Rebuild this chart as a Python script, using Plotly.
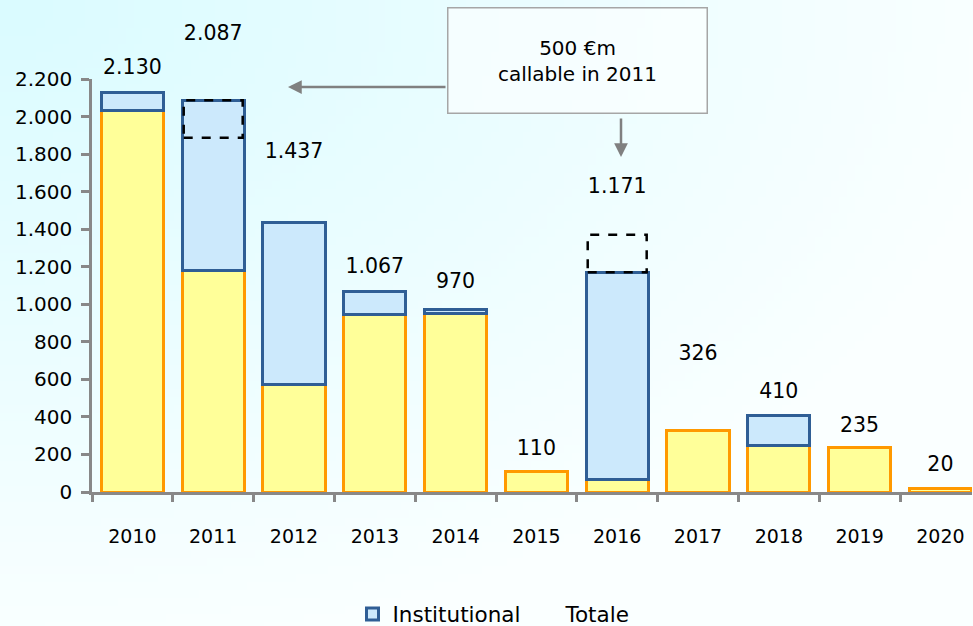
import base64
import struct
import zlib

import plotly.graph_objects as go

# ---- data (€m) ----
years = ["2010", "2011", "2012", "2013", "2014", "2015", "2016", "2017", "2018", "2019", "2020"]
retail = [2030, 1180, 575, 945, 950, 110, 65, 326, 250, 235, 20]
institutional = [100, 907, 862, 122, 20, 0, 1106, 0, 160, 0, 0]
totals = [2130, 2087, 1437, 1067, 970, 110, 1171, 326, 410, 235, 20]
callable_amount = 200
callable_from, callable_to = "2011", "2016"
y_ticks = [0, 200, 400, 600, 800, 1000, 1200, 1400, 1600, 1800, 2000, 2200]
y_max = 2200

# ---- label placement (height above each bar, data units) ----
label_lift = [124, 348, 369, 126, 143, 114, 449, 404, 117, 111, 119]

# ---- geometry (pixels) ----
W, H = 973, 626
L, R, B = 92, 972, 492      # plot area left/right/bottom
T_AXIS = 79                 # top of the value axis (2.200)
T = 4                       # top of the drawing area (labels may rise above the axis)
BAR_W = 0.77
FONT = "DejaVu Sans"

axis_frac = (B - T_AXIS) / (B - T)


def px_x(p):
    return (p - L) / (R - L)


def px_y(p):
    return (B - p) / (B - T)


def gradient_png(w, h):
    """Soft cyan wash fading from the top-left corner to white."""
    c0 = (218, 251, 255)
    c1 = (250, 255, 255)
    rows = []
    for j in range(h):
        row = bytearray([0])
        for i in range(w):
            d = ((i / (w - 1)) ** 2 + (j / (h - 1)) ** 2) ** 0.5
            t = min(1.0, d / 1.05)
            row += bytes(int(round(c0[k] + (c1[k] - c0[k]) * t)) for k in range(3))
        rows.append(bytes(row))
    raw = b"".join(rows)

    def chunk(tag, data):
        c = struct.pack(">I", len(data)) + tag + data
        return c + struct.pack(">I", zlib.crc32(tag + data) & 0xFFFFFFFF)

    png = b"\x89PNG\r\n\x1a\n"
    png += chunk(b"IHDR", struct.pack(">IIBBBBB", w, h, 8, 2, 0, 0, 0))
    png += chunk(b"IDAT", zlib.compress(raw, 9))
    png += chunk(b"IEND", b"")
    return "data:image/png;base64," + base64.b64encode(png).decode()


def fmt(v):
    return f"{v:,}".replace(",", ".")


def no_zero(vals):
    return [v if v else None for v in vals]


fig = go.Figure()

fig.add_trace(go.Bar(
    x=years, y=no_zero(retail), name="Retail", showlegend=False,
    width=BAR_W,
    marker=dict(color="#ffff99", line=dict(color="#ff9900", width=3)),
    hoverinfo="x+y",
))
fig.add_trace(go.Bar(
    x=years, y=no_zero(institutional), name="Institutional",
    width=BAR_W,
    marker=dict(color="#cce9fc", line=dict(color="#2f5e95", width=3)),
    hoverinfo="x+y",
))
fig.add_trace(go.Scatter(
    x=years, y=totals, name="Totale", mode="lines",
    line=dict(color="rgba(0,0,0,0)", width=2),
    hoverinfo="x+y",
))
# total labels, on a taller twin axis with the same scale so they can sit above 2.200
fig.add_trace(go.Scatter(
    x=years, y=[t + lift for t, lift in zip(totals, label_lift)], yaxis="y2",
    mode="text", text=[fmt(t) for t in totals], textposition="middle center",
    textfont=dict(family=FONT, size=20.5, color="#000000"),
    cliponaxis=False, showlegend=False, hoverinfo="skip",
))

annotations = []
# callout box
annotations.append(dict(
    x=px_x(577), y=px_y(60), xref="paper", yref="paper",
    xanchor="center", yanchor="middle",
    text="500 €m<br>callable in 2011", showarrow=False,
    width=256, height=102, align="center", valign="middle",
    bgcolor="rgba(255,255,255,0.55)", bordercolor="#a6a6a6", borderwidth=1.5,
    font=dict(family=FONT, size=20, color="#000000"),
))
# arrow to the 2011 bar
annotations.append(dict(
    x=px_x(288), y=px_y(87), xref="paper", yref="paper",
    ax=447 - 288, ay=0, axref="pixel", ayref="pixel",
    text="", showarrow=True, arrowhead=2, arrowsize=1.1, arrowwidth=2.5,
    arrowcolor="#808080",
))
# arrow to the 2016 bar
annotations.append(dict(
    x=px_x(621), y=px_y(157), xref="paper", yref="paper",
    ax=0, ay=117 - 157, axref="pixel", ayref="pixel",
    text="", showarrow=True, arrowhead=2, arrowsize=1.1, arrowwidth=2.5,
    arrowcolor="#808080",
))

# dashed boxes for the callable tranche
i_from = years.index(callable_from)
i_to = years.index(callable_to)
half = BAR_W / 2 - 0.02
shapes = [
    dict(type="rect", xref="x", yref="y",
         x0=i_from - half, x1=i_from + half,
         y0=totals[i_from] - callable_amount, y1=totals[i_from],
         line=dict(color="#000000", width=2.5, dash="dash"), fillcolor="rgba(0,0,0,0)"),
    dict(type="rect", xref="x", yref="y",
         x0=i_to - half, x1=i_to + half,
         y0=totals[i_to], y1=totals[i_to] + callable_amount,
         line=dict(color="#000000", width=2.5, dash="dash"), fillcolor="rgba(0,0,0,0)"),
]

fig.update_layout(
    width=W, height=H,
    margin=dict(l=L, r=W - R, t=T, b=H - B, pad=0, autoexpand=False),
    barmode="stack",
    separators=",.",
    paper_bgcolor="#ffffff",
    plot_bgcolor="rgba(0,0,0,0)",
    font=dict(family=FONT, size=19, color="#000000"),
    showlegend=True,
    legend=dict(
        orientation="h", x=px_x(494), xanchor="center", y=px_y(614), yanchor="middle",
        font=dict(family=FONT, size=21.5, color="#000000"),
        bgcolor="rgba(0,0,0,0)", traceorder="normal",
    ),
    annotations=annotations,
    shapes=shapes,
    images=[dict(
        source=gradient_png(120, 78), xref="paper", yref="paper",
        x=px_x(0), y=px_y(0), sizex=W / (R - L), sizey=H / (B - T),
        xanchor="left", yanchor="top", sizing="stretch", layer="below",
    )],
    yaxis=dict(domain=[0, axis_frac]),
    yaxis2=dict(domain=[0, 1], anchor="x", range=[0, y_max / axis_frac],
                visible=False, fixedrange=True),
)

fig.update_xaxes(
    type="category", range=[-0.5, -0.5 + (R - L) / 80.8],
    showgrid=False, zeroline=False,
    showline=True, linecolor="#888888", linewidth=2.5,
    ticks="outside", tickson="boundaries", ticklen=7, tickwidth=2.5, tickcolor="#888888",
    ticklabelstandoff=25,
    tickfont=dict(family=FONT, size=19, color="#000000"),
)
fig.update_layout(yaxis=dict(
    range=[0, y_max], tickvals=y_ticks, tickformat=",d",
    showgrid=False, zeroline=False,
    showline=True, linecolor="#888888", linewidth=2.5,
    ticks="outside", ticklen=8, tickwidth=2.5, tickcolor="#888888",
    ticklabelstandoff=5,
    tickfont=dict(family=FONT, size=20, color="#000000"),
))

fig.write_html("out.html")
